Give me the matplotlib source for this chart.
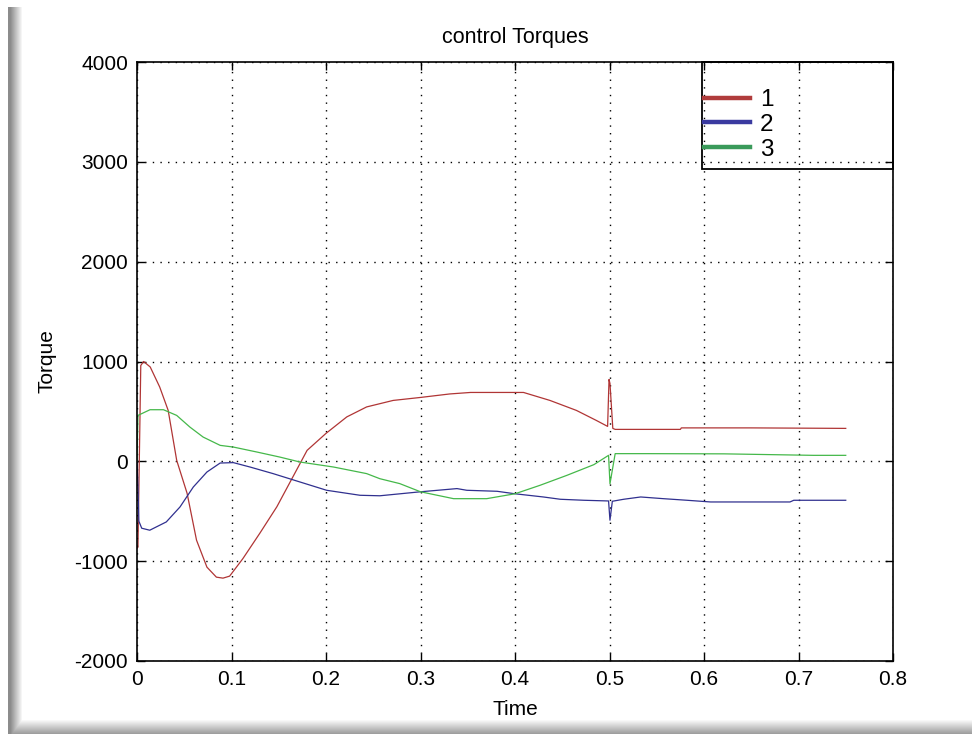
import numpy as np
import matplotlib
matplotlib.use("Agg")
import matplotlib.pyplot as plt
from matplotlib.patches import Rectangle

plt.rcParams['font.family'] = ['Liberation Sans', 'DejaVu Sans']

# torque 1 (red)
t1 = [0, 0.001, 0.004, 0.007, 0.014, 0.024, 0.033, 0.042, 0.053, 0.063, 0.074, 0.084,
      0.091, 0.098, 0.112, 0.130, 0.148, 0.165, 0.180, 0.200, 0.222, 0.243,
      0.271, 0.300, 0.331, 0.353, 0.380, 0.409, 0.437, 0.465, 0.486, 0.498,
      0.4995, 0.5005, 0.5035, 0.506, 0.540, 0.575, 0.576, 0.650, 0.750]
y1 = [-870, -860, 960, 1000, 945, 745, 510, 10, -320, -790, -1060, -1160,
      -1170, -1150, -975, -720, -455, -155, 110, 280, 445, 545,
      610, 640, 675, 690, 690, 690, 610, 510, 410, 350,
      820, 780, 330, 320, 320, 320, 335, 335, 330]

# torque 2 (blue)
t2 = [0, 0.001, 0.002, 0.005, 0.0135, 0.031, 0.0455, 0.0596, 0.074, 0.088,
      0.102, 0.1196, 0.144, 0.1725, 0.2007, 0.236, 0.257, 0.300, 0.3386,
      0.349, 0.381, 0.400, 0.430, 0.448, 0.473, 0.499, 0.5005, 0.503,
      0.515, 0.533, 0.557, 0.582, 0.607, 0.691, 0.695, 0.750]
y2 = [0, -250, -600, -670, -690, -607, -457, -257, -107, -17,
      -13, -57, -123, -207, -290, -340, -345, -305, -273,
      -290, -300, -325, -357, -380, -390, -397, -590, -400,
      -380, -357, -374, -390, -407, -407, -390, -390]

# torque 3 (green)
t3 = [0, 0.001, 0.0138, 0.028, 0.042, 0.056, 0.070, 0.088, 0.102, 0.127,
      0.151, 0.1725, 0.208, 0.243, 0.257, 0.278, 0.300, 0.335, 0.370,
      0.400, 0.4265, 0.455, 0.4835, 0.499, 0.5005, 0.506, 0.540, 0.621,
      0.716, 0.750]
y3 = [0, 460, 517, 517, 460, 343, 243, 160, 143, 93,
      43, -7, -57, -123, -174, -223, -305, -374, -374,
      -325, -240, -140, -33, 60, -225, 77, 77, 75,
      60, 60]

labels = ['1', '2', '3']
xticks = [0, 0.1, 0.2, 0.3, 0.4, 0.5, 0.6, 0.7, 0.8]
yticks = [-2000, -1000, 0, 1000, 2000, 3000, 4000]

fig = plt.figure(figsize=(9.72, 7.34), dpi=100)

# grey window border (left and bottom)
H, W = 734, 972
img = np.ones((H, W, 3))
for c in range(8, 23):
    g = 0.55 if c < 11 else 0.55 + 0.45 * (c - 10) / 12
    img[7:, c, :] = np.minimum(img[7:, c, :], g)
for r in range(719, H):
    g = 1.0 - 0.38 * (r - 719) / (H - 1 - 719)
    img[r, 8:, :] = np.minimum(img[r, 8:, :], g)
fig.figimage(img, xo=0, yo=0, zorder=-10)

ax = fig.add_axes([137 / 972, 1 - 661 / 734, 756 / 972, 599 / 734])
ax.set_zorder(5)
ax.plot(t1, y1, color='#b03535', lw=0.9, label=labels[0])
ax.plot(t2, y2, color='#30308f', lw=0.9, label=labels[1])
ax.plot(t3, y3, color='#45b84a', lw=0.9, label=labels[2])

ax.set_xlim(0, 0.8)
ax.set_ylim(-2000, 4000)
ax.set_xticks(xticks)
ax.set_yticks(yticks)
ax.set_xticklabels([('%g' % v) for v in xticks])
ax.set_yticklabels([str(v) for v in yticks])
ax.tick_params(direction='in', length=6, width=1, top=True, right=True,
               labelsize=15, pad=6.5)
ax.grid(True, color='black', linestyle=(0, (1, 4.5)), linewidth=1.0)
for s in ax.spines.values():
    s.set_linewidth(1.2)

ax.set_title('control Torques', fontsize=15.5, pad=14)
ax.set_xlabel('Time', fontsize=15, labelpad=8)
ax.set_ylabel('Torque', fontsize=15, labelpad=13)

# legend box
x0 = (702 - 137) / 756
y0 = (661 - 169) / 599
ax.add_patch(Rectangle((x0, y0), 1 - x0, 1 - y0, transform=ax.transAxes,
                       fill=False, edgecolor='black', lw=1.3, zorder=5,
                       clip_on=False))
leg = ax.legend(loc='upper left', bbox_to_anchor=(x0 + 0.002, (661 - 89) / 599),
                frameon=False, fontsize=17.5, borderpad=0, borderaxespad=0,
                handlelength=1.9, handletextpad=0.42, labelspacing=0.12)
for h in leg.get_lines():
    h.set_linewidth(3.2)
leg.get_lines()[0].set_color('#b03c3c')
leg.get_lines()[1].set_color('#3a3aa0')
leg.get_lines()[2].set_color('#3a9a5a')

fig.savefig('out.png', dpi=100)
